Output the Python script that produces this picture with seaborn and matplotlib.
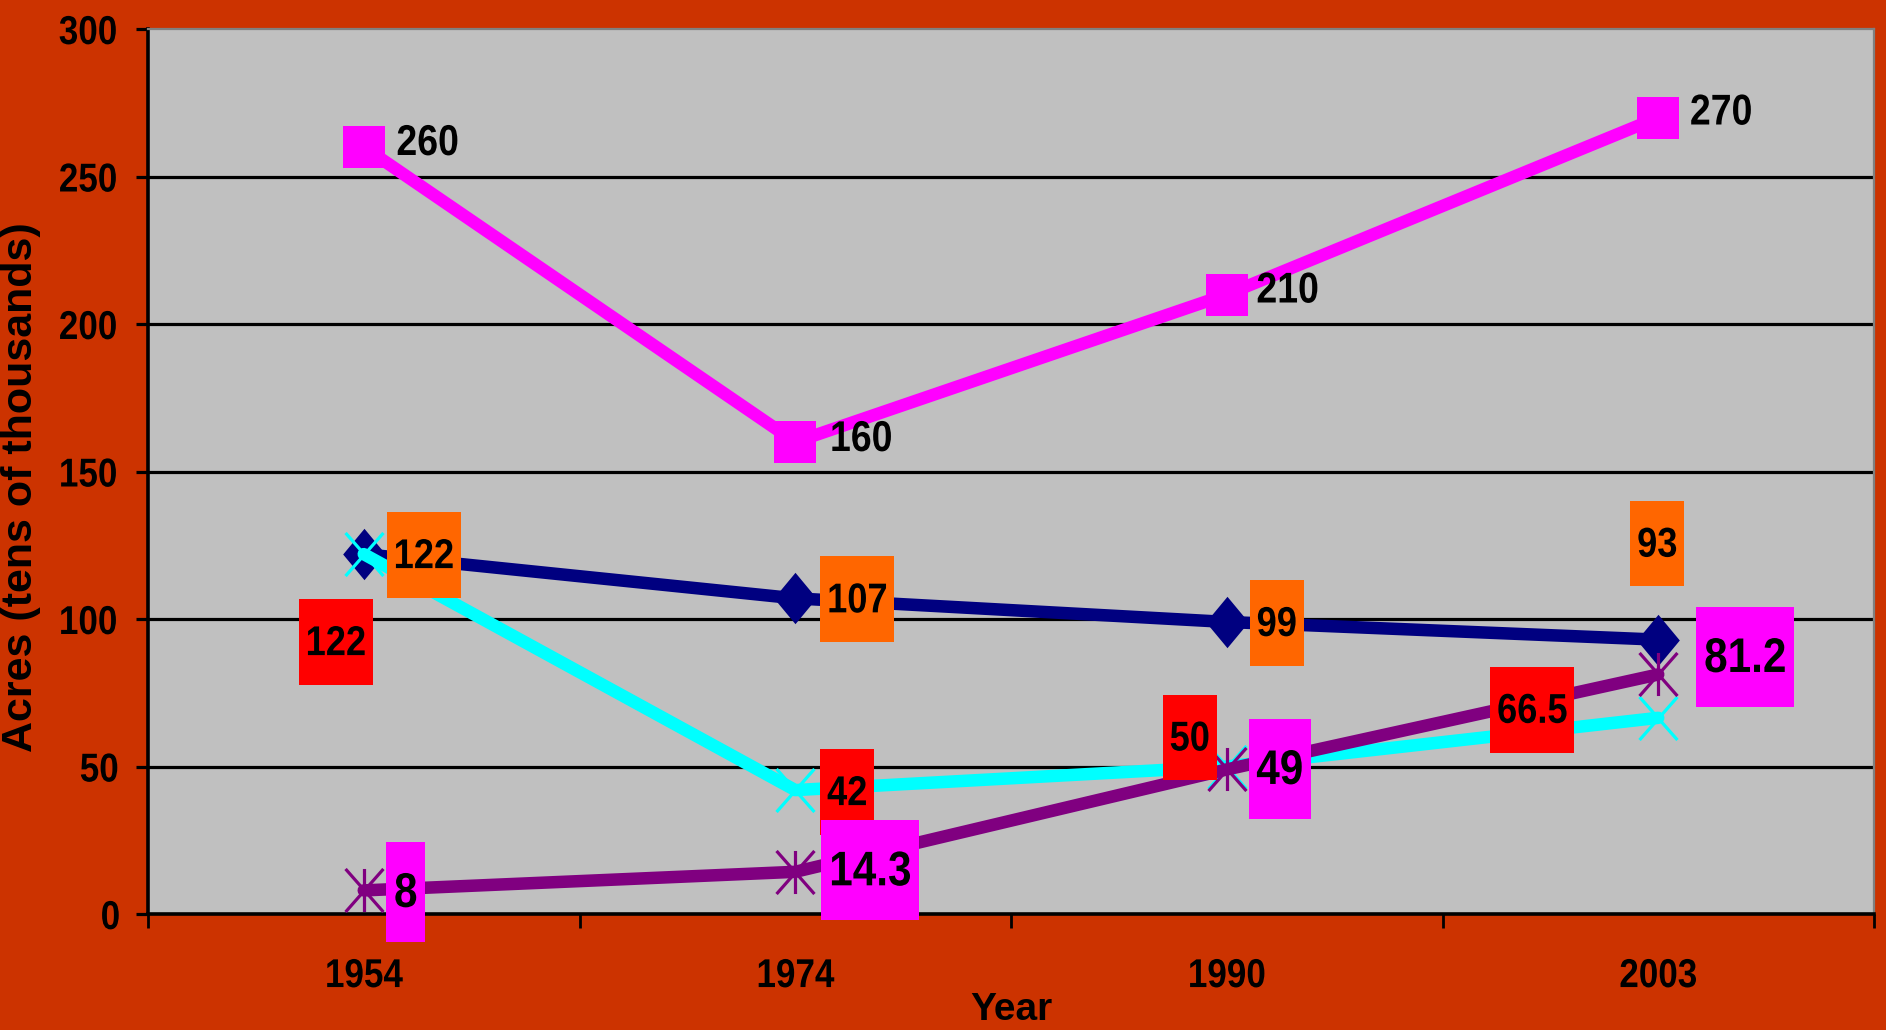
import numpy as np
import pandas as pd
import matplotlib
matplotlib.use("Agg")
import matplotlib.pyplot as plt
from matplotlib.path import Path
from matplotlib.transforms import Affine2D
from matplotlib import patheffects
import seaborn as sns

years = ["1954", "1974", "1990", "2003"]
navy_vals = [122, 107, 99, 93]
pink_vals = [260, 160, 210, 270]
cyan_vals = [122, 42, 50, 66.5]
purple_vals = [8, 14.3, 49, 81.2]

navy_labels = ["122", "107", "99", "93"]
pink_labels = ["260", "160", "210", "270"]
cyan_labels = ["122", "42", "50", "66.5"]
purple_labels = ["8", "14.3", "49", "81.2"]

yticks = [0, 50, 100, 150, 200, 250, 300]

# label offsets in pixels from each point (label placement only)
navy_off = [(60, -3), (62, -3), (50, -3), (-1, 94)]
pink_off = [(28, 3), (30, 2), (25, 3), (27, 4)]
cyan_off = [(-28, -90), (52, -4), (-37, 27), (-126, 6)]
purple_off = [(42, -4), (75, -1), (53, -2), (87, 15)]

SX = 0.87  # the original uses a narrow bold face

sns.set_style("white")
plt.rcParams["font.family"] = ["Liberation Sans", "DejaVu Sans"]
plt.rcParams["font.weight"] = "bold"
for k in ["text.color", "axes.labelcolor", "xtick.color", "ytick.color"]:
    plt.rcParams[k] = "black"


class Squeeze(patheffects.AbstractPathEffect):
    # squeeze glyphs horizontally around the middle of the string
    def __init__(self, sx=SX):
        super().__init__()
        self.sx = sx

    def draw_path(self, renderer, gc, tpath, affine, rgbFace=None):
        ext = tpath.get_extents()
        cx = (ext.x0 + ext.x1) / 2
        t = Affine2D().translate(-cx, 0).scale(self.sx, 1).translate(cx, 0)
        renderer.draw_path(gc, tpath, t + affine, rgbFace)


def tall_box(x0, y0, width, height, mutation_size):
    # narrow padding left/right, tall box like the Excel labels
    cx = x0 + width / 2
    half = SX * width / 2 + 0.16 * mutation_size
    cy = y0 + height / 2 + 0.05 * mutation_size
    h = 1.03 * mutation_size
    return Path([(cx - half, cy - h), (cx + half, cy - h),
                 (cx + half, cy + h), (cx - half, cy + h),
                 (cx - half, cy - h)], closed=True)


pos = np.arange(len(years))
df = pd.DataFrame({"pos": pos, "navy": navy_vals, "pink": pink_vals,
                   "cyan": cyan_vals, "purple": purple_vals})

diamond = [(0, 1), (0.83, 0), (0, -1), (-0.83, 0), (0, 1)]
cross = Path([(-0.88, -1), (0.88, 1), (-0.88, 1), (0.88, -1)],
             [Path.MOVETO, Path.LINETO, Path.MOVETO, Path.LINETO])
star = Path([(-0.88, -1), (0.88, 1), (-0.88, 1), (0.88, -1), (0, 1), (0, -1)],
            [Path.MOVETO, Path.LINETO, Path.MOVETO, Path.LINETO, Path.MOVETO, Path.LINETO])

fig = plt.figure(figsize=(18.86, 10.30), dpi=100, facecolor="#CC3300")
ax = fig.add_axes([148 / 1886, 1 - 914 / 1030, 1726 / 1886, 885 / 1030])
ax.set_facecolor("#C0C0C0")

for y in yticks[1:-1]:
    ax.axhline(y, color="black", lw=2.3, zorder=1)

sns.lineplot(data=df, x="pos", y="navy", ax=ax, color="#000080", lw=9,
             marker=diamond, markersize=37, markeredgecolor="#000080",
             markeredgewidth=0, zorder=3)
sns.lineplot(data=df, x="pos", y="pink", ax=ax, color="#FF00FF", lw=9,
             marker="s", markersize=30, markeredgecolor="#FF00FF",
             markeredgewidth=0, zorder=3)
sns.lineplot(data=df, x="pos", y="cyan", ax=ax, color="#00FFFF", lw=9,
             marker=cross, markersize=31, markeredgecolor="#00FFFF",
             markerfacecolor="none", markeredgewidth=2.3, zorder=3)
sns.lineplot(data=df, x="pos", y="purple", ax=ax, color="#800080", lw=9,
             marker=star, markersize=31, markeredgecolor="#800080",
             markerfacecolor="none", markeredgewidth=2.3, zorder=3)

squeeze = [Squeeze()]


def put_labels(vals, texts, offs, size, fc=None, ha="center"):
    for i, (v, t, o) in enumerate(zip(vals, texts, offs)):
        kw = {}
        if fc is not None:
            kw["bbox"] = dict(boxstyle=tall_box, fc=fc, ec="none")
        ax.annotate(t, xy=(pos[i], v), xytext=o, textcoords="offset pixels",
                    ha=ha, va="center", fontsize=size, fontweight="bold",
                    color="black", zorder=5, annotation_clip=False,
                    path_effects=squeeze, **kw)


put_labels(pink_vals, pink_labels, pink_off, 31, ha="left")
put_labels(navy_vals, navy_labels, navy_off, 30, fc="#FF6600")
put_labels(cyan_vals, cyan_labels, cyan_off, 30, fc="#FF0000")
put_labels(purple_vals, purple_labels, purple_off, 35, fc="#FF00FF")

ax.set_xlim(-0.5, len(years) - 0.5)
ax.set_ylim(0, 300)
ax.set_yticks(yticks)
ax.set_yticklabels([str(t) for t in yticks])
ax.set_xticks(pos)
ax.set_xticklabels(years)
ax.set_xticks(np.arange(len(years) + 1) - 0.5, minor=True)
ax.tick_params(axis="y", direction="out", length=9, width=2.3, color="black",
               pad=10, labelsize=29, left=True)
ax.tick_params(axis="x", which="major", length=0, pad=31, labelsize=29)
ax.tick_params(axis="x", which="minor", direction="out", length=10, width=2,
               color="black", bottom=True)
for lab in ax.get_xticklabels() + ax.get_yticklabels():
    lab.set_fontweight("bold")
    lab.set_path_effects(squeeze)

for side in ["left", "bottom"]:
    ax.spines[side].set_color("black")
    ax.spines[side].set_linewidth(2.6)
for side in ["top", "right"]:
    ax.spines[side].set_color("#808080")
    ax.spines[side].set_linewidth(1.6)
    ax.spines[side].set_visible(True)

ax.set_xlabel("Year", fontsize=28, fontweight="bold")
ax.set_ylabel("Acres (tens of thousands)", fontsize=31, fontweight="bold")
ax.xaxis.set_label_coords(0.5, -0.088)
ax.yaxis.set_label_coords(-0.062, 0.4825)

fig.savefig("out.png", dpi=100, facecolor=fig.get_facecolor())
